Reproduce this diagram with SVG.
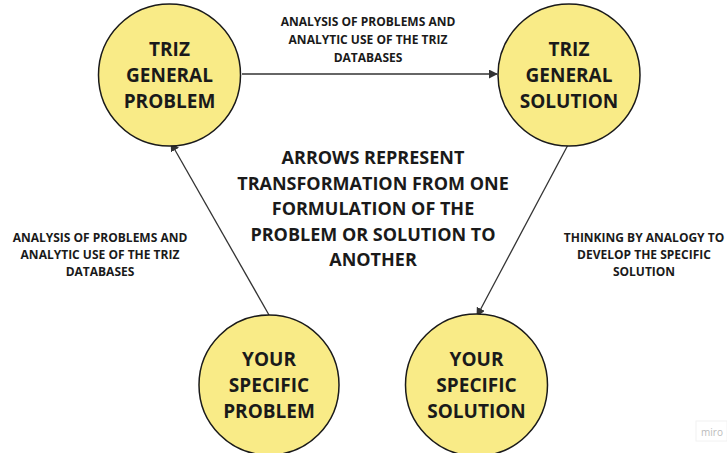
<svg xmlns="http://www.w3.org/2000/svg" width="727" height="453" viewBox="0 0 727 453">
<style>
.node circle{fill:#f9eb87;stroke:#1a1a1a;stroke-width:1.5}
.nt{font-family:"Open Sans","Liberation Sans",sans-serif;font-weight:bold;font-size:19px;fill:#1a1a1a;text-anchor:middle}
.ct{font-family:"Open Sans","Liberation Sans",sans-serif;font-weight:bold;font-size:18px;fill:#1a1a1a;text-anchor:middle}
.lt{font-family:"Open Sans","Liberation Sans",sans-serif;font-weight:bold;font-size:12px;fill:#1a1a1a;text-anchor:middle}
.edge{stroke:#333;stroke-width:1.3;fill:none;marker-end:url(#ah)}
</style>
<defs>
<marker id="ah" viewBox="0 0 10 10" refX="9" refY="5" markerWidth="9" markerHeight="9" markerUnits="userSpaceOnUse" orient="auto">
<path d="M0,0 L10,5 L0,10 z" fill="#333"/>
</marker>
</defs>
<rect width="727" height="453" fill="#fff"/>
<g id="connectors">
<line class="edge" x1="242" y1="74" x2="497" y2="74"/>
<line class="edge" x1="269" y1="315" x2="171" y2="143"/>
<line class="edge" x1="569" y1="143" x2="477" y2="316"/>
</g>
<g id="n1" class="node">
<circle cx="169.5" cy="75" r="71"/>
<text class="nt" x="169.5" y="56">TRIZ</text>
<text class="nt" x="169.5" y="82">GENERAL</text>
<text class="nt" x="169.5" y="108">PROBLEM</text>
</g>
<g id="n2" class="node">
<circle cx="569" cy="75" r="71"/>
<text class="nt" x="569" y="56">TRIZ</text>
<text class="nt" x="569" y="82">GENERAL</text>
<text class="nt" x="569" y="108">SOLUTION</text>
</g>
<g id="n3" class="node">
<circle cx="269" cy="385" r="70"/>
<text class="nt" x="269" y="366">YOUR</text>
<text class="nt" x="269" y="392">SPECIFIC</text>
<text class="nt" x="269" y="418">PROBLEM</text>
</g>
<g id="n4" class="node">
<circle cx="476.5" cy="385" r="71"/>
<text class="nt" x="476.5" y="366">YOUR</text>
<text class="nt" x="476.5" y="392">SPECIFIC</text>
<text class="nt" x="476.5" y="418">SOLUTION</text>
</g>
<g id="labels">
<text class="lt" x="368" y="26">ANALYSIS OF PROBLEMS AND</text>
<text class="lt" x="368" y="44">ANALYTIC USE OF THE TRIZ</text>
<text class="lt" x="368" y="62">DATABASES</text>
<text class="lt" x="100" y="242">ANALYSIS OF PROBLEMS AND</text>
<text class="lt" x="100" y="259">ANALYTIC USE OF THE TRIZ</text>
<text class="lt" x="100" y="276">DATABASES</text>
<text class="lt" x="644" y="242">THINKING BY ANALOGY TO</text>
<text class="lt" x="644" y="259">DEVELOP THE SPECIFIC</text>
<text class="lt" x="644" y="276">SOLUTION</text>
</g>
<g id="note">
<text class="ct" x="373" y="164">ARROWS REPRESENT</text>
<text class="ct" x="373" y="190">TRANSFORMATION FROM ONE</text>
<text class="ct" x="373" y="215">FORMULATION OF THE</text>
<text class="ct" x="373" y="241">PROBLEM OR SOLUTION TO</text>
<text class="ct" x="373" y="266">ANOTHER</text>
</g>
<g id="watermark">
<rect x="696" y="421" width="31" height="20" fill="#fff" stroke="#f2f2f2"/>
<text x="712" y="436" font-family="Open Sans, Liberation Sans, sans-serif" font-size="10" fill="#bbb" text-anchor="middle">miro</text>
</g>
</svg>
